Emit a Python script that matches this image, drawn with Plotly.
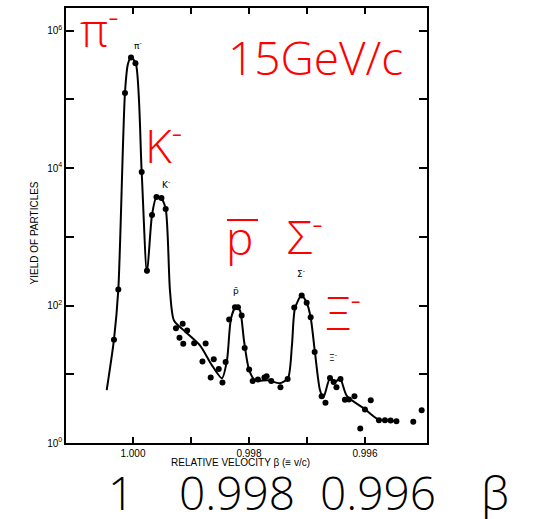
import plotly.graph_objects as go

# ---- data ----
point_beta = [1.000328, 1.000253, 1.000138, 1.000034, 0.999957, 0.999850, 0.999759,
              0.999672, 0.999595, 0.999509, 0.999436, 0.999259, 0.999143, 0.999066,
              0.999198, 0.999133, 0.998945, 0.998747, 0.998802, 0.998607, 0.998521,
              0.998660, 0.998457, 0.998402, 0.998341, 0.998241, 0.998190, 0.998126,
              0.998074, 0.997997, 0.997936, 0.997845, 0.997733, 0.997695, 0.997616,
              0.997457, 0.997333, 0.997219, 0.997091, 0.997005, 0.996936, 0.996867,
              0.996747, 0.996681, 0.996603, 0.996540, 0.996491, 0.996422, 0.996345,
              0.996276, 0.996181, 0.995900, 0.996081, 0.995759, 0.995655, 0.995557,
              0.995457, 0.995167, 0.995022, 0.996000]
point_yield = [31.8, 171, 1.24e5, 4.06e5, 3.36e5, 8750, 321,
               2080, 3800, 3680, 2545, 46.9, 54.3, 43.4,
               34.0, 27.9, 28.4, 28.1, 15.4, 16.6, 11.9,
               8.96, 7.6, 15.1, 62.7, 94.5, 94.5, 71.6,
               24.2, 11.7, 7.97, 8.38, 8.96, 9.35, 8.0,
               6.5, 8.55, 93.5, 140, 110, 67.7, 21.1,
               4.8, 3.84, 8.84, 7.73, 6.5, 8.52, 4.27,
               4.29, 4.8, 4.2, 1.63, 2.15, 2.15, 2.13,
               2.07, 2.04, 3.0, 3.06]

curve_beta = [1.000453, 1.000328, 1.000253, 1.000138, 1.000086, 1.000034, 0.999953,
              0.999850, 0.999759, 0.999672, 0.999595, 0.999517, 0.999436, 0.999362,
              0.999293, 0.999103, 0.998845, 0.998638, 0.998466, 0.998379, 0.998310,
              0.998224, 0.998155, 0.998086, 0.998000, 0.997897, 0.997672, 0.997466,
              0.997328, 0.997259, 0.997207, 0.997095, 0.997005, 0.996936, 0.996862,
              0.996776, 0.996716, 0.996603, 0.996517, 0.996431, 0.996310, 0.996000,
              0.995776, 0.995448]
curve_yield = [5.9, 32, 171, 1.26e5, 3.3e5, 4.06e5, 3.36e5,
               8750, 300, 2080, 3800, 3680, 2545, 165,
               60.6, 42, 26.3, 13.5, 8.75, 16, 64.8,
               96.8, 84.7, 31, 11.8, 8.2, 8.2, 7.4,
               8.75, 26.3, 90.5, 140, 110, 67, 20.8,
               5.9, 4.6, 8.75, 7.66, 8.75, 4.8, 3.11,
               2.23, 2.08]

x_tick_vals = [1.000, 0.999, 0.998, 0.997, 0.996]
x_tick_text = ["1.000", "", "0.998", "", "0.996"]
y_tick_vals = [1, 10, 100, 1e3, 1e4, 1e5, 1e6]
y_tick_text = ["10<sup>0</sup>", "", "10<sup>2</sup>", "", "10<sup>4</sup>", "", "10<sup>6</sup>"]

peak_labels = ["π<sup>-</sup>", "K<sup>-</sup>", "p\u0304", "Σ<sup>-</sup>", "Ξ<sup>-</sup>"]
red_labels = ["π<sup>-</sup>", "15GeV/c", "K<sup>-</sup>", "p", "Σ<sup>-</sup>", "Ξ<sup>-</sup>"]
bottom_labels = ["1", "0.998", "0.996", "β"]

# ---- layout helpers (pixel -> paper) ----
L, R, T, B = 66, 427, 6, 443
W, H = 538, 519
def px(x):
    return (x - L) / (R - L)
def py(y):
    return (B - y) / (B - T)

fig = go.Figure()
fig.add_trace(go.Scatter(x=curve_beta, y=curve_yield, mode="lines",
                         line=dict(color="black", width=2, shape="spline", smoothing=0.7),
                         hoverinfo="skip"))
fig.add_trace(go.Scatter(x=point_beta, y=point_yield, mode="markers",
                         marker=dict(color="black", size=6)))

axis_font = dict(family="Liberation Sans", size=10, color="black")
fig.update_xaxes(range=[1.001155, 0.99493], tickvals=x_tick_vals, ticktext=x_tick_text,
                 ticks="inside", ticklen=6, tickwidth=1.5, tickcolor="black",
                 showline=True, linecolor="black", linewidth=1.5, mirror="ticks",
                 showgrid=False, zeroline=False, tickfont=axis_font)
fig.update_yaxes(type="log", range=[0, 6.33], tickvals=y_tick_vals, ticktext=y_tick_text,
                 ticks="inside", ticklen=8, tickwidth=1.5, tickcolor="black",
                 showline=True, linecolor="black", linewidth=1.5, mirror="ticks",
                 showgrid=False, zeroline=False, tickfont=axis_font)

ann = []
# axis titles
ann.append(dict(text="RELATIVE VELOCITY β (≡ v/c)", x=px(240), y=py(470), xref="paper", yref="paper",
                showarrow=False, font=dict(family="Liberation Sans", size=10, color="black")))
ann.append(dict(text="YIELD OF PARTICLES", x=px(27), y=py(232), xref="paper", yref="paper",
                textangle=-90, showarrow=False, font=dict(family="Liberation Sans", size=10, color="black")))
# small black peak labels
for t, (xx, yy) in zip(peak_labels, [(132, 35), (160, 183), (236, 290), (301, 272), (339, 365)]):
    ann.append(dict(text=t, x=px(xx), y=py(yy), xref="paper", yref="paper", showarrow=False,
                    font=dict(family="DejaVu Sans", size=9, color="black")))
# red labels
red_font = dict(family="Open Sans", size=46, color="red", weight=300)
for t, (xx, yy) in zip(red_labels, [(99, 25), (315, 55), (163.5, 142), (239, 236), (304.5, 233), (343, 309)]):
    ann.append(dict(text=t, x=px(xx), y=py(yy), xref="paper", yref="paper", showarrow=False,
                    xanchor="center", yanchor="middle", font=red_font))
# bottom big labels
big_font = dict(family="Open Sans", size=46, color="black", weight=300)
for t, xx in zip(bottom_labels, [121, 236.5, 377.5, 495]):
    ann.append(dict(text=t, x=px(xx), y=py(492), xref="paper", yref="paper", showarrow=False,
                    xanchor="center", yanchor="middle", font=big_font))

fig.update_layout(width=W, height=H, margin=dict(l=L, r=W - R, t=T, b=H - B),
                  paper_bgcolor="white", plot_bgcolor="white", showlegend=False,
                  annotations=ann,
                  shapes=[dict(type="line", xref="paper", yref="paper",
                               x0=px(227), x1=px(258), y0=py(219), y1=py(219),
                               line=dict(color="red", width=2))])

fig.write_html("out.html", config={"displayModeBar": False},
               post_script="document.body.style.margin='0';")
